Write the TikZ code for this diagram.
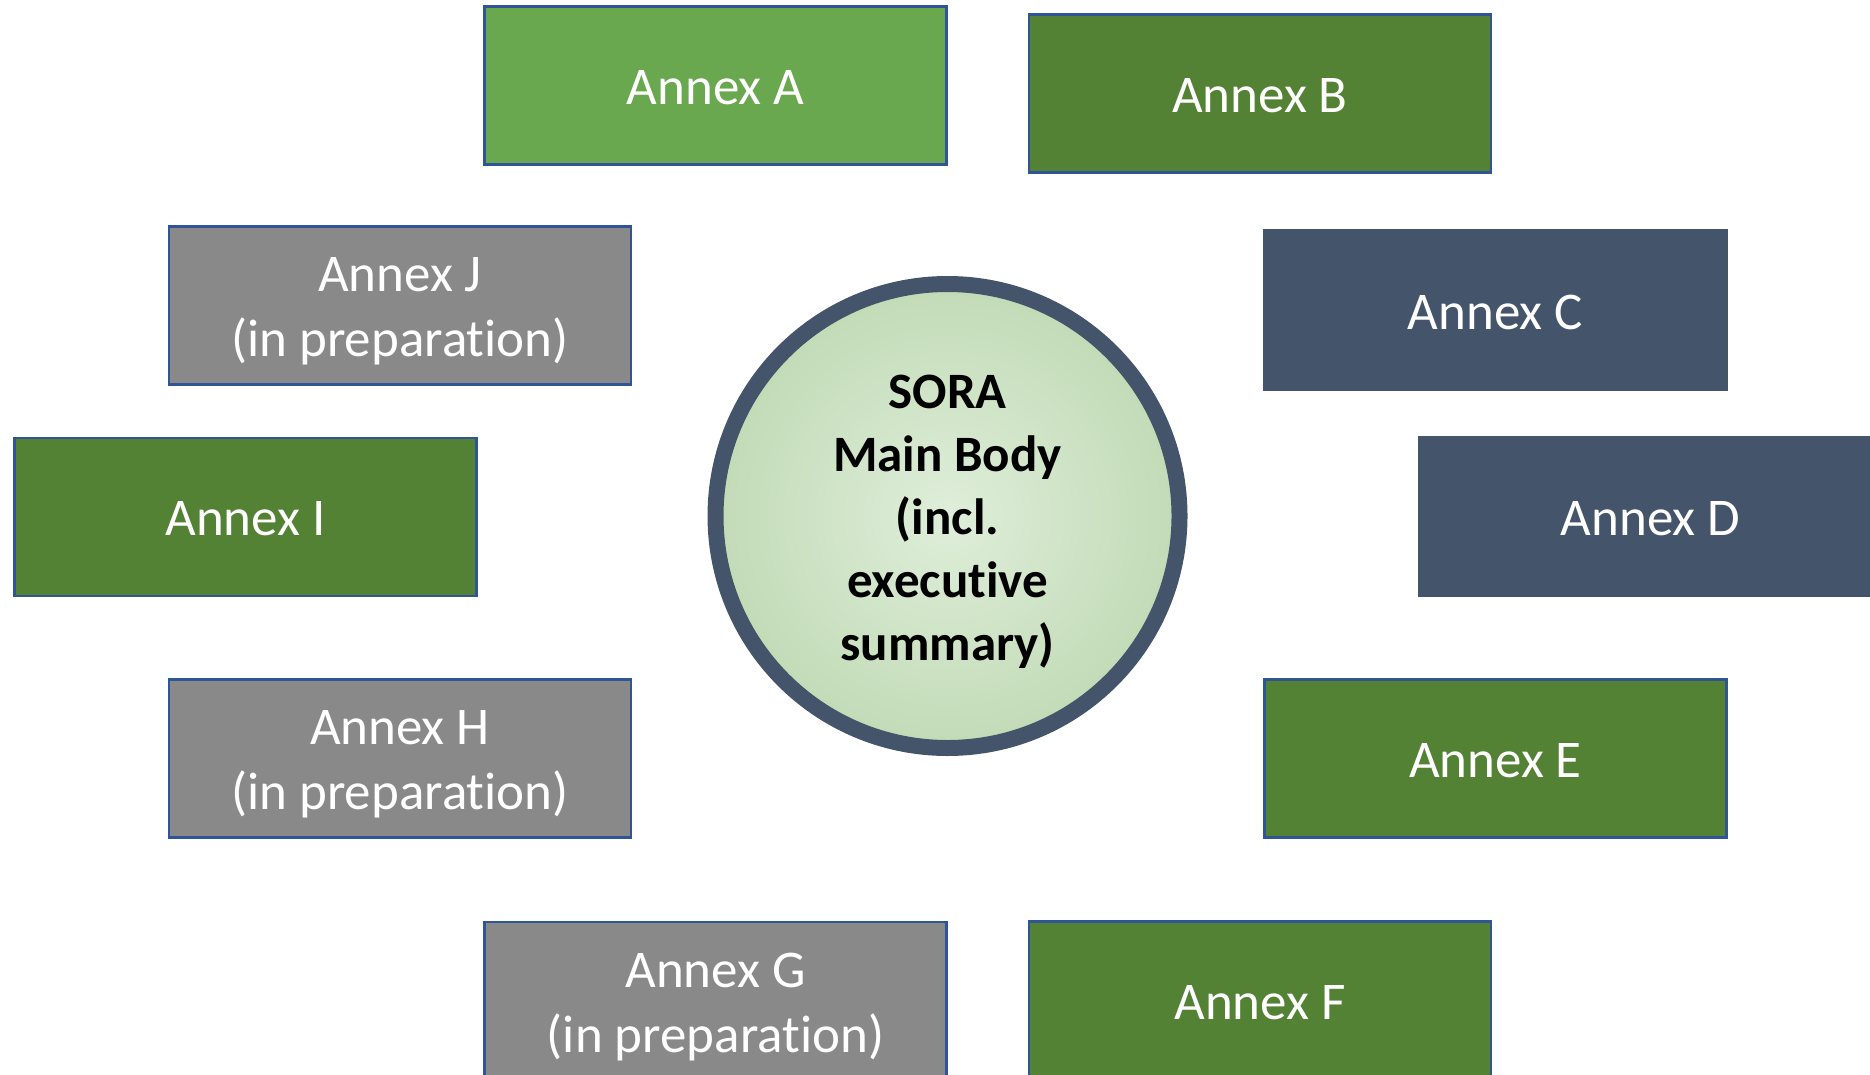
\documentclass[tikz,border=0pt]{standalone}
\usepackage{fontspec}
\setmainfont{Carlito}[Ligatures=NoCommon]
\definecolor{lightgreen}{HTML}{6AA84F}
\definecolor{darkgreen}{HTML}{548235}
\definecolor{greybox}{HTML}{898989}
\definecolor{slate}{HTML}{44546A}
\definecolor{edgeblue}{HTML}{2F5597}
\definecolor{coreinner}{HTML}{DFEEDA}
\definecolor{coreouter}{HTML}{A5C893}
\pgfdeclareradialshading{coreglow}{\pgfpoint{0bp}{0bp}}{color(0bp)=(coreinner); color(50bp)=(coreouter)}
\tikzset{
  annexbox/.style={rectangle, inner sep=0pt, minimum width=462pt, minimum height=158pt},
  outlined/.style={annexbox, draw=edgeblue, line width=2.5pt},
  plain/.style={annexbox, minimum width=465pt, minimum height=161pt},
  boxtext/.style={inner sep=0pt, text=white, align=center, font=\fontsize{53}{65}\selectfont},
  core/.style={circle, inner sep=0pt, minimum size=464pt, draw=slate, line width=16pt,
    shading=coreglow},
  coretext/.style={inner sep=0pt, align=center, font=\fontsize{51}{63}\selectfont\bfseries}
}
\begin{document}
\begin{tikzpicture}[x=1pt, y=-1pt]
\useasboundingbox (0,0) rectangle (1870,1075);
% central document
\node[core] (sora) at (947.5,516) {};
\node[coretext] (soratext) at ([yshift=-6pt]sora.center) {SORA\\Main Body\\(incl.\\executive\\summary)};
% annex boxes around it
\node[outlined, fill=lightgreen] (annexA) at (715.5,85.5) {};
\node[outlined, fill=darkgreen] (annexB) at (1260,93.5) {};
\node[plain, fill=slate] (annexC) at (1495.5,310) {};
\node[plain, fill=slate] (annexD) at (1650.5,516.5) {};
\node[outlined, fill=darkgreen] (annexE) at (1495.5,758.5) {};
\node[outlined, fill=darkgreen] (annexF) at (1260,1000.5) {};
\node[outlined, fill=greybox] (annexG) at (715.5,1001) {};
\node[outlined, fill=greybox] (annexH) at (400,758.5) {};
\node[outlined, fill=darkgreen] (annexI) at (245.5,517) {};
\node[outlined, fill=greybox] (annexJ) at (400,305.5) {};
% annex titles
\node[boxtext] (annexAtext) at ([yshift=-2pt]annexA.center) {Annex A};
\node[boxtext] (annexBtext) at ([yshift=-2pt]annexB.center) {Annex B};
\node[boxtext] (annexCtext) at ([yshift=-2pt]annexC.center) {Annex C};
\node[boxtext] (annexDtext) at ([yshift=-2pt]annexD.center) {Annex D};
\node[boxtext] (annexEtext) at ([yshift=-2pt]annexE.center) {Annex E};
\node[boxtext] (annexFtext) at ([yshift=-2pt]annexF.center) {Annex F};
\node[boxtext] (annexGtext) at ([yshift=-6pt]annexG.center) {Annex G\\(in preparation)};
\node[boxtext] (annexHtext) at ([yshift=-6pt]annexH.center) {Annex H\\(in preparation)};
\node[boxtext] (annexItext) at ([yshift=-2pt]annexI.center) {Annex I};
\node[boxtext] (annexJtext) at ([yshift=-6pt]annexJ.center) {Annex J\\(in preparation)};
\end{tikzpicture}
\end{document}
